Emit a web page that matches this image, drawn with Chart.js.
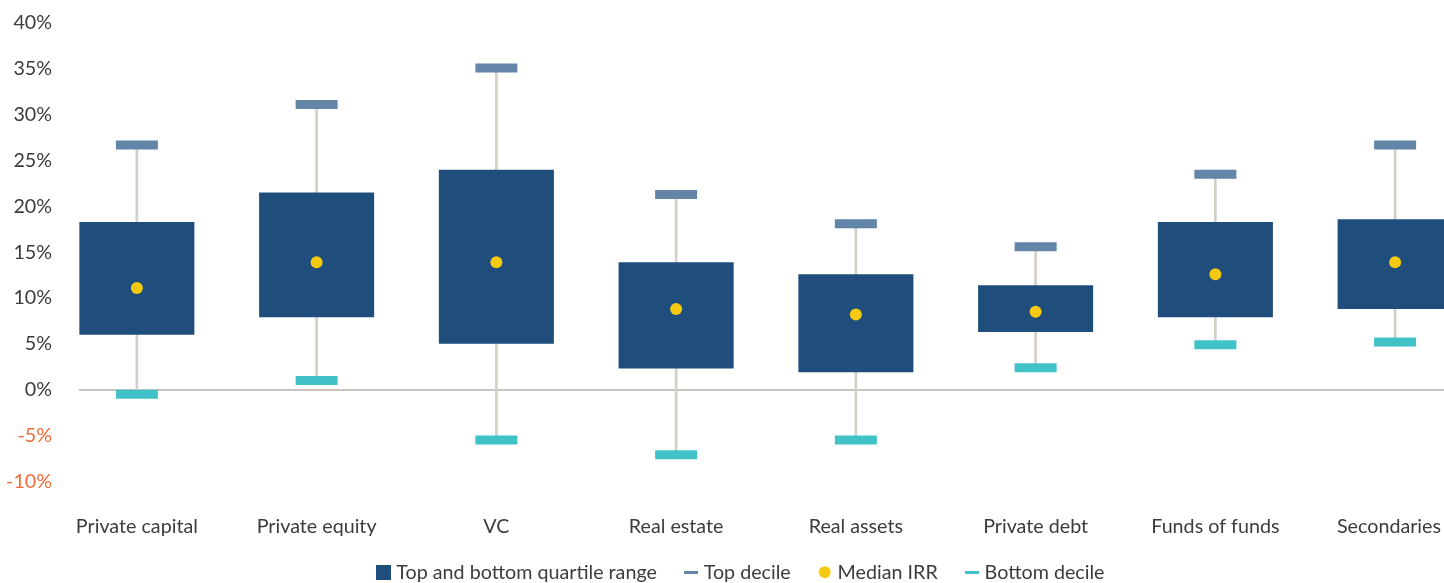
<!DOCTYPE html>
<html>
<head>
<meta charset="utf-8">
<script src="https://cdn.jsdelivr.net/npm/chart.js@4"></script>
<style>
  html, body { margin: 0; padding: 0; background: #fff; overflow: hidden; }
  #wrap { width: 1444px; height: 583px; overflow: hidden; }
</style>
</head>
<body>
<div id="wrap">
  <canvas id="irrChart" width="1485" height="592"></canvas>
</div>
<script>
// data (IRR, %)
const categories = ['Private capital', 'Private equity', 'VC', 'Real estate', 'Real assets', 'Private debt', 'Funds of funds', 'Secondaries'];
const bottomQuartile = [6.0, 7.9, 5.0, 2.3, 1.9, 6.3, 7.9, 8.8];
const topQuartile = [18.3, 21.5, 24.0, 13.9, 12.6, 11.4, 18.3, 18.6];
const medianIRR = [11.1, 13.9, 13.9, 8.8, 8.2, 8.5, 12.6, 13.9];
const topDecile = [26.7, 31.1, 35.1, 21.3, 18.1, 15.6, 23.5, 26.7];
const bottomDecile = [-0.5, 1.0, -5.5, -7.1, -5.5, 2.4, 4.9, 5.2];
const yTicks = [-10, -5, 0, 5, 10, 15, 20, 25, 30, 35, 40];

const NAVY = '#1F4E7D';
const TOP_C = '#6285A8';
const BOT_C = '#40C2C8';
const MED_C = '#F5C812';
const WHISK = '#D3CFC9';
const TXT = '#3C3C3C';
const FONT = "Lato, 'Liberation Sans', sans-serif";
const fontOpt = { family: FONT, size: 19.7 };

// little legend icons
function icon(w, h, draw) {
    const c = document.createElement('canvas');
    c.width = w; c.height = h;
    draw(c.getContext('2d'));
    return c;
}
const boxIcon = icon(15, 15, g => { g.fillStyle = NAVY; g.fillRect(0, 0, 15, 15); });
const topIcon = icon(14, 3, g => { g.fillStyle = TOP_C; g.fillRect(0, 0, 14, 3); });
const botIcon = icon(14, 3, g => { g.fillStyle = BOT_C; g.fillRect(0, 0, 14, 3); });
const medIcon = icon(13, 13, g => { g.fillStyle = MED_C; g.beginPath(); g.arc(6.5, 6.5, 6, 0, Math.PI * 2); g.fill(); });
const legendIcons = [boxIcon, topIcon, medIcon, botIcon];

// horizontal zero line
const zeroLine = {
    id: 'zeroLine',
    beforeDatasetsDraw(chart) {
        const y = Math.round(chart.scales.y.getPixelForValue(0));
        const a = chart.chartArea;
        const ctx = chart.ctx;
        ctx.save();
        ctx.strokeStyle = '#C9C4BD';
        ctx.lineWidth = 2;
        ctx.beginPath();
        ctx.moveTo(a.left + 32, y);
        ctx.lineTo(a.right, y);
        ctx.stroke();
        ctx.restore();
    }
};

const canvas = document.getElementById('irrChart');
const viewWidth = document.getElementById('wrap').clientWidth;

// keep the x labels inside the visible width (like the original does with the last one)
function keepLabelsInside(scale) {
    const base = Object.getPrototypeOf(scale).getLabelItems;
    scale.getLabelItems = function (area) {
        const items = base.call(this, area);
        const ctx = this.ctx;
        items.forEach(it => {
            ctx.save();
            ctx.font = it.font.string;
            const half = ctx.measureText(it.label).width / 2;
            ctx.restore();
            const maxX = viewWidth - 3 - half;
            if (it.options.translation[0] > maxX) it.options.translation[0] = maxX;
        });
        return items;
    };
}

new Chart(canvas.getContext('2d'), {
    data: {
        labels: categories,
        datasets: [
            {
                type: 'bar',
                label: 'Top and bottom quartile range',
                data: categories.map((c, i) => [bottomQuartile[i], topQuartile[i]]),
                backgroundColor: NAVY,
                barPercentage: 0.64,
                categoryPercentage: 1,
                grouped: false,
                order: 2
            },
            {
                type: 'line',
                label: 'Top decile',
                data: topDecile,
                showLine: false,
                pointStyle: 'line',
                pointRadius: 21,
                pointHoverRadius: 21,
                pointBorderWidth: 9,
                pointBorderColor: TOP_C,
                pointBackgroundColor: TOP_C,
                order: 1
            },
            {
                type: 'line',
                label: 'Median IRR',
                data: medianIRR,
                showLine: false,
                pointStyle: 'circle',
                pointRadius: 6,
                pointBorderWidth: 0,
                pointBackgroundColor: MED_C,
                order: 0
            },
            {
                type: 'line',
                label: 'Bottom decile',
                data: bottomDecile,
                showLine: false,
                pointStyle: 'line',
                pointRadius: 21,
                pointHoverRadius: 21,
                pointBorderWidth: 9,
                pointBorderColor: BOT_C,
                pointBackgroundColor: BOT_C,
                order: 1
            },
            {
                type: 'bar',
                label: 'whisker',
                data: categories.map((c, i) => [bottomDecile[i], topDecile[i]]),
                backgroundColor: WHISK,
                barThickness: 2,
                grouped: false,
                order: 3
            }
        ]
    },
    options: {
        responsive: false,
        devicePixelRatio: 1,
        animation: false,
        layout: { autoPadding: false, padding: { top: 23, left: 0, right: 0, bottom: 0 } },
        scales: {
            x: {
                offset: true,
                grid: { display: false, drawTicks: false },
                border: { display: false },
                ticks: {
                    color: TXT,
                    font: fontOpt,
                    padding: 34
                },
                afterFit: s => {
                    s.height = 50;
                    s.paddingLeft = 0;
                    s.paddingRight = 0;
                    s._computeLabelArea = () => undefined; // no clipping of the labels
                    keepLabelsInside(s);
                }
            },
            y: {
                min: -10,
                max: 40,
                afterBuildTicks: s => { s.ticks = yTicks.map(v => ({ value: v })); },
                grid: { display: false, drawTicks: false },
                border: { display: false },
                ticks: {
                    padding: -5,
                    color: c => c.tick.value < 0 ? '#F26B3A' : TXT,
                    font: fontOpt,
                    callback: v => v + '%'
                },
                afterFit: s => {
                    s.width = 47;
                    s.paddingTop = 0;
                    s.paddingBottom = 0;
                    s._computeLabelArea = () => undefined; // let labels spill past the axis box
                }
            }
        },
        plugins: {
            tooltip: { enabled: false },
            legend: {
                position: 'bottom',
                labels: {
                    color: TXT,
                    font: fontOpt,
                    usePointStyle: true,
                    boxWidth: 6,
                    boxHeight: 6,
                    padding: 31,
                    filter: item => item.text !== 'whisker',
                    sort: (a, b) => a.datasetIndex - b.datasetIndex,
                    generateLabels: chart => {
                        const items = Chart.defaults.plugins.legend.labels.generateLabels(chart);
                        items.forEach(it => {
                            if (legendIcons[it.datasetIndex]) it.pointStyle = legendIcons[it.datasetIndex];
                        });
                        return items;
                    }
                }
            }
        }
    },
    plugins: [zeroLine]
});
</script>
</body>
</html>
